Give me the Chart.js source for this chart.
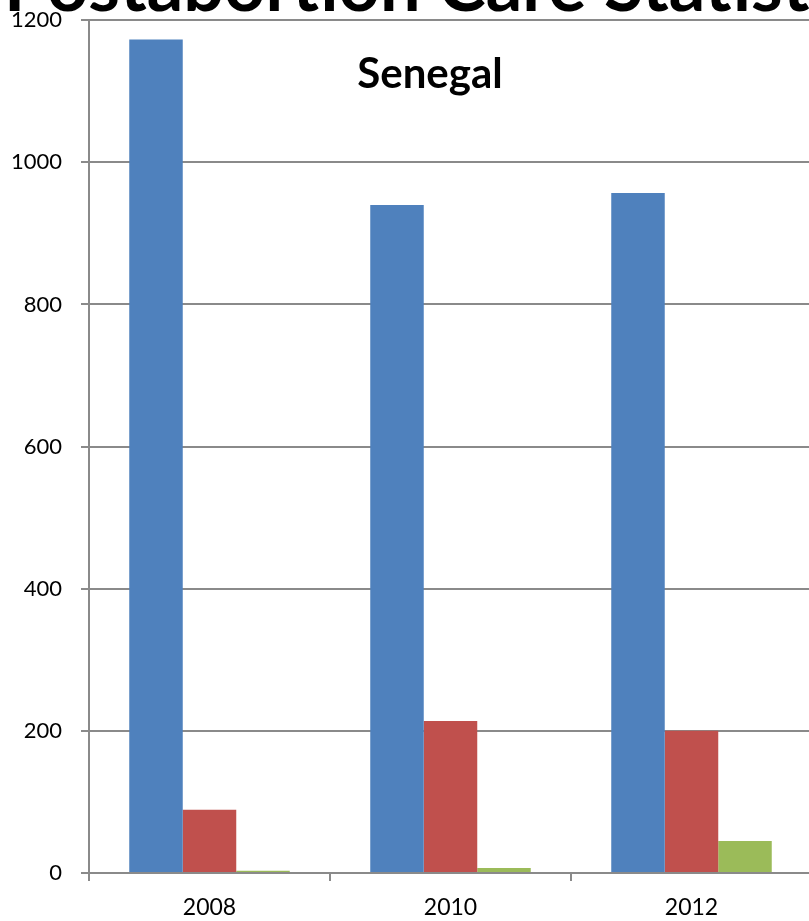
<!DOCTYPE html>
<html>
<head>
<meta charset="utf-8">
<script src="https://cdn.jsdelivr.net/npm/chart.js@4.4.1/dist/chart.umd.min.js"></script>
<style>
  html, body { margin: 0; padding: 0; overflow: hidden; background: #fff; width: 809px; height: 921px; }
  #wrap { position: absolute; left: 0; top: -12px; width: 830px; height: 933px; }
</style>
</head>
<body>
<div id="wrap"><canvas id="c" width="830" height="933"></canvas></div>
<script>
const slideTitle = 'Postabortion Care Statistics';
const chartTitle = 'Senegal';
const categories = ['2008', '2010', '2012'];
const seriesNames = ['Series 1', 'Series 2', 'Series 3'];
const series1 = [1173, 940, 957];
const series2 = [89, 214, 200];
const series3 = [3, 7, 45];
const yTicks = [0, 200, 400, 600, 800, 1000, 1200];
const colors = ['#4F81BD', '#C0504D', '#9BBB59'];
const SHIFT = 12;

const titlePlugin = {
  id: 'titles',
  afterDraw(chart) {
    const ctx = chart.ctx;
    ctx.save();
    ctx.fillStyle = '#000';
    ctx.textBaseline = 'alphabetic';
    ctx.textAlign = 'left';
    ctx.font = 'bold 72px Lato';
    ctx.fillText(slideTitle, 4, 11 + SHIFT);
    ctx.textAlign = 'center';
    ctx.font = 'bold 42px Lato';
    ctx.fillText(chartTitle, 430, 88 + SHIFT);
    ctx.restore();
  }
};

const seriesData = [series1, series2, series3];
new Chart(document.getElementById('c'), {
  type: 'bar',
  data: {
    labels: categories,
    datasets: seriesData.map((d, i) => ({
      label: seriesNames[i],
      data: d,
      backgroundColor: colors[i],
      borderWidth: 0,
      categoryPercentage: 0.666,
      barPercentage: 1.0
    }))
  },
  options: {
    responsive: false,
    animation: false,
    devicePixelRatio: 1,
    layout: { padding: { top: 8, right: 18, left: 0, bottom: 0 } },
    plugins: { legend: { display: false }, tooltip: { enabled: false }, title: { display: false } },
    scales: {
      x: {
        grid: { display: true, drawOnChartArea: false, drawTicks: true, tickLength: 8, color: '#8a8a8a', lineWidth: 2, offset: true },
        border: { display: false },
        ticks: { color: '#000', font: { family: 'Lato', size: 23 }, padding: 13, maxRotation: 0 },
        afterFit(s) { s.height = 48; }
      },
      y: {
        min: 0, max: 1200,
        afterBuildTicks(s) { s.ticks = yTicks.map(v => ({ value: v })); },
        grid: { color: '#8a8a8a', lineWidth: 2, tickLength: 8, drawTicks: true },
        border: { display: true, color: '#8a8a8a', width: 2 },
        ticks: { color: '#000', font: { family: 'Lato', size: 22 }, padding: 19, callback: v => String(v) },
        afterFit(s) { s.width = 89; }
      }
    }
  },
  plugins: [titlePlugin]
});
</script>
</body>
</html>
